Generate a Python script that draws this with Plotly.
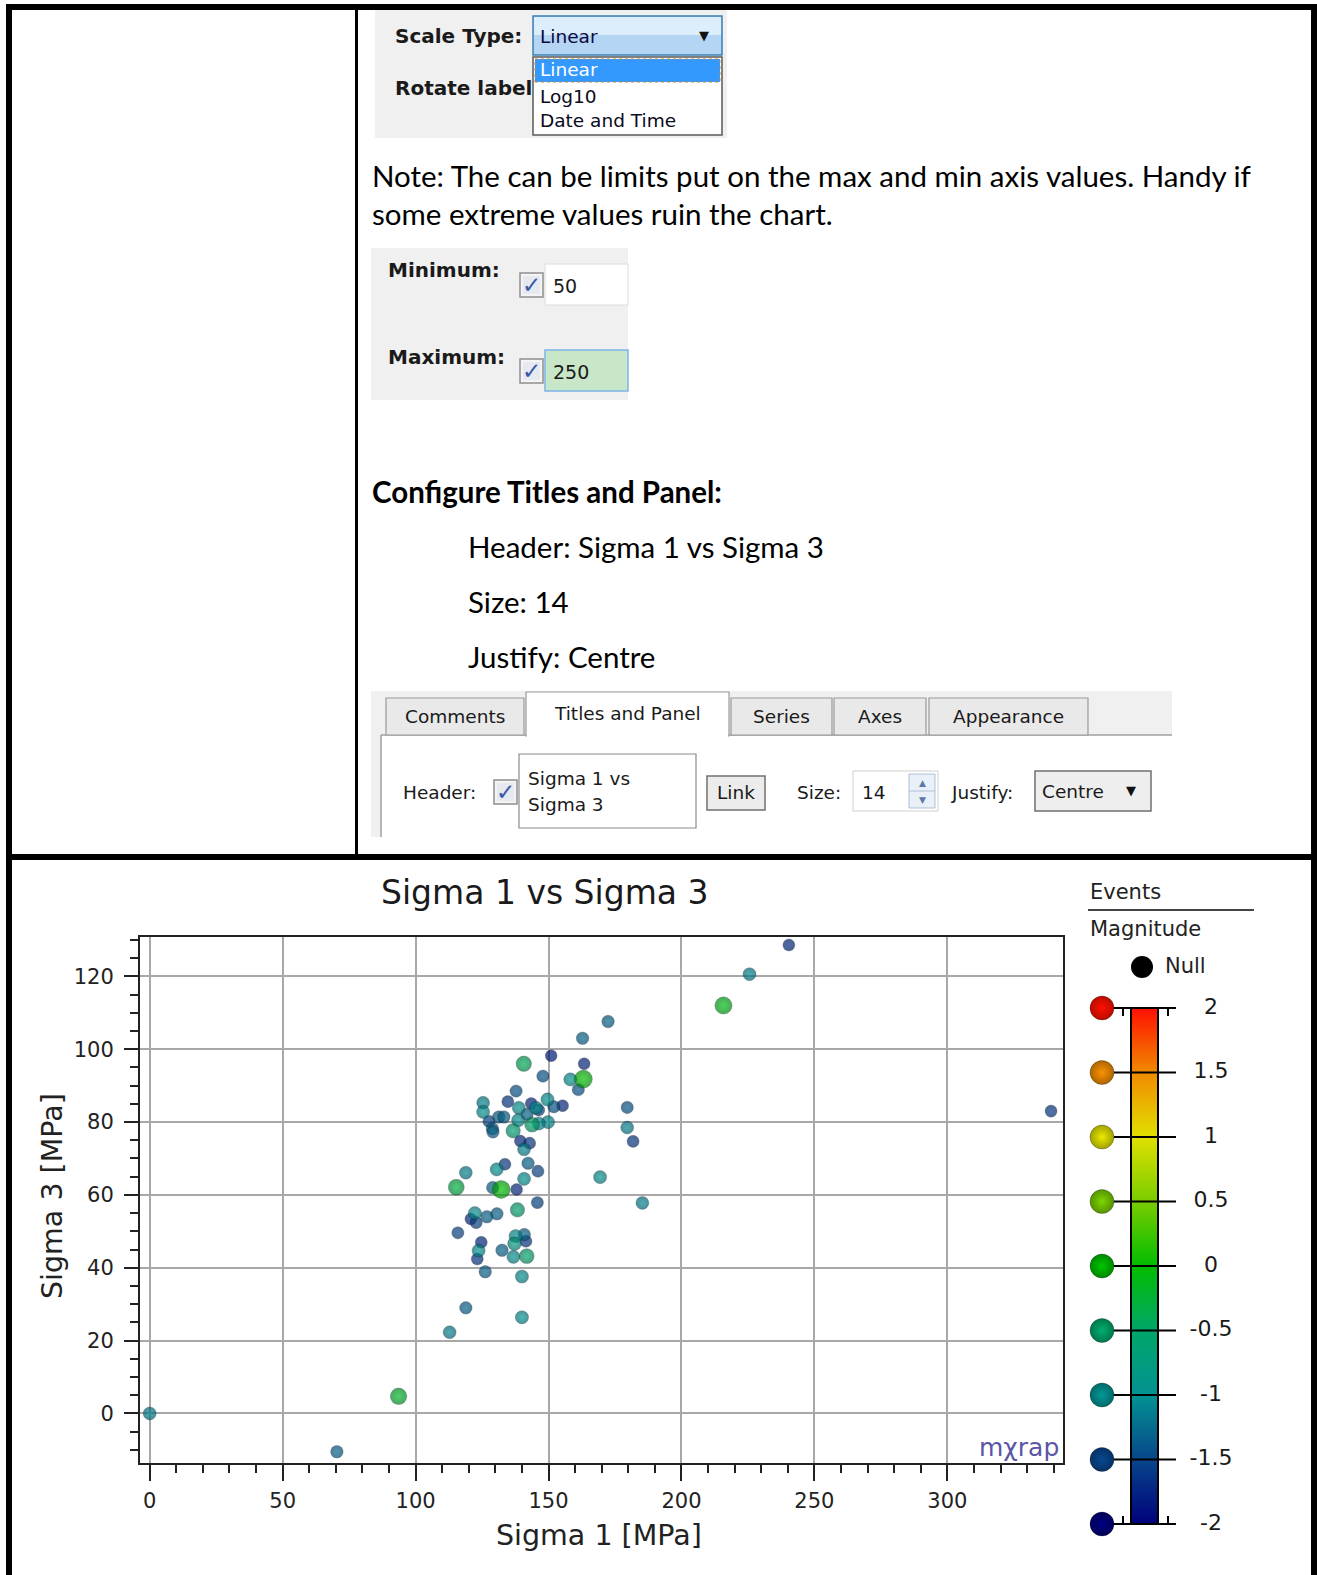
import plotly.graph_objects as go

W, H = 1317, 1575
CHART_FONT = "DejaVu Sans"
UI_FONT = "DejaVu Sans"
DOC_FONT = "Lato"

# events: sigma 1, sigma 3 (MPa) and magnitude
sigma1 = [172.4, 162.8, 151.0, 140.7, 163.4, 147.9, 163.1, 158.2, 161.2, 137.8,
          134.7, 125.4, 143.5, 149.6, 138.8, 145.3, 146.3, 152.0, 155.3, 125.4,
          131.3, 133.2, 127.6, 141.9, 138.6, 143.8, 149.8, 146.3, 128.9, 129.1,
          136.7, 179.6, 179.6, 181.8, 139.4, 142.9, 140.8, 142.3, 133.6, 130.5,
          146.0, 118.9, 140.8, 169.4, 115.3, 132.2, 129.0, 138.0, 185.3, 145.8,
          138.3, 122.3, 126.8, 130.6, 120.8, 122.8, 115.9, 137.6, 140.9, 141.5,
          137.2, 124.7, 123.7, 132.5, 141.8, 136.8, 123.2, 126.2, 140.0, 118.9,
          140.0, 112.8, 93.6, 70.4, 0.0, 215.8, 225.6, 240.4, 339.0]
sigma3 = [107.6, 103.0, 98.2, 96.0, 96.0, 92.6, 91.8, 91.7, 88.9, 88.5,
          85.6, 85.3, 85.1, 86.2, 83.9, 83.9, 83.3, 84.2, 84.5, 82.8,
          81.4, 81.4, 80.2, 82.1, 80.5, 79.3, 80.0, 79.6, 78.2, 77.3,
          77.6, 84.0, 78.5, 74.7, 74.8, 74.2, 72.5, 68.7, 68.4, 67.0,
          66.5, 66.1, 64.4, 64.9, 62.1, 61.5, 62.0, 61.5, 57.8, 57.9,
          55.9, 55.0, 54.0, 54.8, 53.4, 52.4, 49.6, 48.7, 49.1, 47.3,
          46.6, 47.0, 44.7, 44.8, 43.2, 43.0, 42.4, 38.9, 37.6, 29.0,
          26.4, 22.3, 4.7, -10.5, 0.0, 112.0, 120.6, 128.6, 83.0]
magnitude = [-1.3, -1.3, -1.8, -0.4, -1.7, -1.4, 0.0, -1.0, -1.4, -1.4,
             -1.6, -1.1, -1.7, -1.0, -1.0, -1.0, -1.5, -1.4, -1.7, -1.0,
             -1.3, -1.3, -1.5, -1.3, -1.0, -0.5, -1.0, -1.0, -1.3, -1.3,
             -0.6, -1.4, -1.1, -1.6, -1.7, -1.6, -1.1, -1.3, -1.6, -1.0,
             -1.5, -1.1, -1.0, -1.0, -0.3, 0.0, -1.3, -1.7, -1.1, -1.5,
             -0.6, -1.0, -1.3, -1.3, -1.7, -1.5, -1.5, -1.0, -1.3, -1.6,
             -0.8, -1.7, -1.0, -1.3, -0.5, -1.0, -1.6, -1.3, -1.0, -1.3,
             -1.0, -1.1, -0.2, -1.3, -1.1, -0.1, -1.1, -1.7, -1.6]

x_ticks = [0, 50, 100, 150, 200, 250, 300]
y_ticks = [0, 20, 40, 60, 80, 100, 120]

mag_levels = [-2, -1.5, -1, -0.5, 0, 0.5, 1, 1.5, 2]
mag_labels = ["-2", "-1.5", "-1", "-0.5", "0", "0.5", "1", "1.5", "2"]
mag_colors = ["#00007c", "#07458a", "#039292", "#00a66a", "#00bd00",
              "#78cc00", "#e0e000", "#f08c00", "#ff1000"]
colorscale = [[(v + 2) / 4, c] for v, c in zip(mag_levels, mag_colors)]


def rgb_of(h):
    return [int(h[i:i + 2], 16) for i in (1, 3, 5)]


def mag_rgb(m):
    # colour of a magnitude on the legend scale
    m = min(max(m, mag_levels[0]), mag_levels[-1])
    for k in range(len(mag_levels) - 1):
        if m <= mag_levels[k + 1]:
            t = (m - mag_levels[k]) / (mag_levels[k + 1] - mag_levels[k])
            a, b = rgb_of(mag_colors[k]), rgb_of(mag_colors[k + 1])
            return [a[j] + (b[j] - a[j]) * t for j in range(3)]


def sphere(m, f=1.0):
    r, g, b = (min(255, c * f) for c in mag_rgb(m))
    return f"rgb({r:.0f},{g:.0f},{b:.0f})"


def X(p):
    return p / W


def Y(p):
    return 1 - p / H


shapes = []
annotations = []


def box(x0, y0, x1, y1, fill=None, line=None, lw=1, dash=None):
    shapes.append(dict(type="rect", xref="paper", yref="paper",
                       x0=X(x0), x1=X(x1), y0=Y(y1), y1=Y(y0),
                       fillcolor=fill or "rgba(0,0,0,0)",
                       line=dict(color=line or "rgba(0,0,0,0)",
                                 width=lw if line else 0, dash=dash)))


def seg(x0, y0, x1, y1, color, lw=1):
    shapes.append(dict(type="line", xref="paper", yref="paper",
                       x0=X(x0), x1=X(x1), y0=Y(y0), y1=Y(y1),
                       line=dict(color=color, width=lw)))


def label(x, y, s, size=18.5, bold=False, anchor="left", color="#1a1a1a",
          family=UI_FONT, angle=0):
    annotations.append(dict(xref="paper", yref="paper", x=X(x), y=Y(y),
                            text=f"<b>{s}</b>" if bold else s, showarrow=False,
                            xanchor=anchor, yanchor="middle", textangle=angle,
                            font=dict(size=size, color=color, family=family)))


def checkbox(x, y):
    box(x, y, x + 23, y + 24, fill="#f4f4f4", line="#8e8f8f", lw=1.5)
    box(x + 3, y + 3, x + 20, y + 21, fill="#e6e9f0")
    label(x + 11.5, y + 12, "✓", 23, anchor="center", color="#3a58a8")


# ---- document table borders
box(6, 4, 1317, 10, fill="black")
box(6, 4, 12, 1575, fill="black")
box(1311, 4, 1317, 1575, fill="black")
box(6, 854, 1317, 860, fill="black")
box(355, 10, 358, 854, fill="black")

# ---- scale type dropdown screenshot
box(375, 10, 727, 138, fill="#f0f0f0")
label(393, 36, "Scale Type:", 20, bold=True)
label(393, 88, "Rotate label", 20, bold=True)
box(533, 16, 722, 55, fill="#b4d6f4")
box(534, 17, 721, 35, fill="#dcedfb")
box(533, 16, 722, 55, line="#3c7fb1", lw=1.5)
label(538, 36, "Linear", 18.5, color="#0a0a40")
label(704, 35, "▼", 13, anchor="center", color="#111")
box(533, 57, 722, 135, fill="white", line="#5a5a5a", lw=1.5)
box(535, 59, 720, 82, fill="#3399ff", line="#c8893a", lw=1, dash="dot")
label(538, 70, "Linear", 18.5, color="white")
label(538, 96, "Log10", 18.5, color="#0a0a20")
label(538, 121, "Date and Time", 18.5, color="#0a0a20")

# ---- note text
label(370, 175, "Note: The can be limits put on the max and min axis values. Handy if",
      29.5, color="black", family=DOC_FONT)
label(370, 213, "some extreme values ruin the chart.", 29.5, color="black", family=DOC_FONT)

# ---- min / max screenshot
box(371, 248, 628, 400, fill="#f0f0f0")
label(386, 270, "Minimum:", 20, bold=True)
label(386, 357, "Maximum:", 20, bold=True)
checkbox(520, 273)
box(545, 264, 628, 305, fill="white", line="#dcdcdc")
label(551, 286, "50", 19)
checkbox(520, 359)
box(545, 350, 628, 391, fill="#c8e6c8", line="#7eb4ea", lw=1.5)
label(551, 372, "250", 19)

# ---- titles and panel text
label(370, 491, "Configure Titles and Panel:", 29.5, bold=True, color="black", family=DOC_FONT)
label(466, 546, "Header: Sigma 1 vs Sigma 3", 29.5, color="black", family=DOC_FONT)
label(466, 601, "Size: 14", 29.5, color="black", family=DOC_FONT)
label(466, 656, "Justify: Centre", 29.5, color="black", family=DOC_FONT)

# ---- tab panel screenshot
box(371, 691, 1172, 735, fill="#f0f0f0")
box(371, 735, 381, 837, fill="#f0f0f0")
seg(381, 735, 381, 837, "#a0a0a0", 1.5)
seg(381, 735, 1172, 735, "#a0a0a0", 1.5)
for x0, x1, name in [(386, 524, "Comments"), (731, 832, "Series"),
                     (834, 926, "Axes"), (929, 1088, "Appearance")]:
    box(x0, 698, x1, 735, fill="#e9e9e9", line="#9a9a9a", lw=1.2)
    label((x0 + x1) / 2, 716, name, 18.5, anchor="center")
box(526, 692, 729, 736, fill="white", line="#9a9a9a", lw=1.2)
box(527, 733, 728, 738, fill="white")
label(627, 713, "Titles and Panel", 18.5, anchor="center")

label(401, 792, "Header:", 18.5)
checkbox(494, 780)
box(519, 754, 696, 828, fill="white", line="#8a8a8a", lw=1.2)
label(526, 778, "Sigma 1 vs", 18.5)
label(526, 804, "Sigma 3", 18.5)
box(707, 776, 765, 810, fill="#ececec", line="#707070", lw=1.5)
label(736, 792, "Link", 18.5, anchor="center")
label(795, 792, "Size:", 18.5)
box(853, 771, 938, 811, fill="white", line="#cfcfcf")
label(860, 792, "14", 18.5)
box(909, 774, 935, 808, fill="#eaf0f8", line="#aebfd6")
seg(909, 791, 935, 791, "#aebfd6")
label(922, 783, "▲", 9, anchor="center", color="#5a7aa8")
label(922, 800, "▼", 9, anchor="center", color="#5a7aa8")
label(949, 792, "Justify:", 18.5)
box(1035, 771, 1151, 811, fill="#eeeeee", line="#707070", lw=1.5)
label(1040, 791, "Centre", 18.5)
label(1131, 790, "▼", 13, anchor="center", color="#111")

# ---- chart texts
label(545, 892, "Sigma 1 vs Sigma 3", 33, anchor="center", family=CHART_FONT)
label(599, 1535, "Sigma 1 [MPa]", 28.5, anchor="center", color="#222", family=CHART_FONT)
label(52, 1196, "Sigma 3 [MPa]", 28.5, anchor="center", color="#222", family=CHART_FONT, angle=-90)
label(1061, 1447, "mχrap", 25, anchor="right", color="#5b55a6", family=CHART_FONT)

# ---- legend header
label(1088, 892, "Events", 21, color="#222", family=CHART_FONT)
seg(1088, 910, 1254, 910, "#444", 2)
label(1088, 929, "Magnitude", 21, color="#222", family=CHART_FONT)
shapes.append(dict(type="circle", xref="paper", yref="paper",
                   x0=X(1131), x1=X(1153), y0=Y(978), y1=Y(956),
                   fillcolor="black", line=dict(width=0)))
label(1163, 966, "Null", 21, color="#222", family=CHART_FONT)

fig = go.Figure()

# main scatter, smaller events first so big ones sit on top
# radial gradient: lighter centre (gradient colour), darker rim (marker colour)
order = sorted(range(len(magnitude)), key=lambda i: magnitude[i])
fig.add_trace(go.Scatter(
    x=[sigma1[i] for i in order],
    y=[sigma3[i] for i in order],
    mode="markers",
    marker=dict(color=[sphere(magnitude[i], 0.72) for i in order],
                gradient=dict(type="radial",
                              color=[sphere(magnitude[i], 1.05) for i in order]),
                size=[11 + 7 * 10 ** (0.5 * magnitude[i]) for i in order],
                line=dict(color="rgba(0,10,50,0.3)", width=1)),
    hoverinfo="x+y", showlegend=False))

# colour legend on its own axes (x in pixels, y in magnitude)
BAR_L, BAR_R, DOT_X, TXT_X = 1131, 1158, 1102, 1211
bar_mid = (BAR_L + BAR_R) / 2
fig.add_trace(go.Heatmap(
    x=[BAR_L, bar_mid, BAR_R], y=mag_levels,
    z=[[v, v] for v in mag_levels], zsmooth="best",
    colorscale=colorscale, zmin=-2, zmax=2, showscale=False,
    hoverinfo="skip", xaxis="x2", yaxis="y2"))
fig.add_trace(go.Scatter(
    x=[bar_mid] * len(mag_levels), y=mag_levels, mode="markers",
    marker=dict(symbol="line-ew", size=45, line=dict(color="black", width=2)),
    xaxis="x2", yaxis="y2", showlegend=False, hoverinfo="skip", cliponaxis=False))
fig.add_trace(go.Scatter(
    x=[DOT_X] * len(mag_levels), y=mag_levels, mode="markers",
    marker=dict(color=[sphere(v, 0.72) for v in mag_levels],
                gradient=dict(type="radial", color=[sphere(v, 1.05) for v in mag_levels]),
                size=24, line=dict(color="rgba(0,0,0,0.25)", width=1)),
    xaxis="x2", yaxis="y2", showlegend=False, hoverinfo="skip", cliponaxis=False))
fig.add_trace(go.Scatter(
    x=[TXT_X] * len(mag_levels), y=mag_levels, mode="text", text=mag_labels,
    textposition="middle center",
    textfont=dict(size=22, color="#1a1a1a", family=CHART_FONT),
    xaxis="x2", yaxis="y2", showlegend=False, hoverinfo="skip", cliponaxis=False))

d = 0.062
shapes.append(dict(type="rect", xref="x2", yref="y2", x0=BAR_L, x1=BAR_R, y0=-2, y1=2,
                   line=dict(color="black", width=2)))
for end, s in [(-2, 1), (2, -1)]:
    shapes.append(dict(type="path", xref="x2", yref="y2",
                       path=f"M {BAR_L - 8},{end + s * d} L {BAR_L - 8},{end} "
                            f"L {BAR_R + 10},{end} L {BAR_R + 10},{end + s * d}",
                       line=dict(color="black", width=2)))

tickfont = dict(size=21, color="#222", family=CHART_FONT)
fig.update_layout(
    width=W, height=H,
    margin=dict(l=0, r=0, t=0, b=0),
    paper_bgcolor="white", plot_bgcolor="white",
    showlegend=False,
    shapes=shapes, annotations=annotations,
    xaxis=dict(domain=[X(140), X(1063)], range=[-3.65, 343.5],
               tickmode="array", tickvals=x_ticks, ticktext=[str(t) for t in x_ticks],
               ticks="outside", ticklen=16, tickwidth=2, tickcolor="#222",
               ticklabelstandoff=2, tickfont=tickfont,
               showline=True, linecolor="#222", linewidth=2, mirror=True,
               showgrid=True, gridcolor="#a8a8a8", gridwidth=2, zeroline=False,
               minor=dict(tickmode="linear", tick0=0, dtick=10, ticks="outside",
                          ticklen=8, tickwidth=2, tickcolor="#222", showgrid=False)),
    yaxis=dict(domain=[Y(1463), Y(937)], range=[-13.6, 130.8],
               tickmode="array", tickvals=y_ticks, ticktext=[str(t) for t in y_ticks],
               ticks="outside", ticklen=14, tickwidth=2, tickcolor="#222",
               ticklabelstandoff=6, tickfont=tickfont,
               showline=True, linecolor="#222", linewidth=2, mirror=True,
               showgrid=True, gridcolor="#a8a8a8", gridwidth=2, zeroline=False,
               minor=dict(tickmode="linear", tick0=0, dtick=5, ticks="outside",
                          ticklen=8, tickwidth=2, tickcolor="#222", showgrid=False)),
    xaxis2=dict(domain=[X(1070), X(1300)], range=[1070, 1300], visible=False,
                fixedrange=True),
    yaxis2=dict(domain=[Y(1524), Y(1008)], range=[-2, 2], visible=False,
                fixedrange=True, anchor="x2"),
)

# the page must not add its default body margin around the figure
fig.write_html("out.html", config={"displayModeBar": False},
               post_script="document.body.style.margin='0';")
